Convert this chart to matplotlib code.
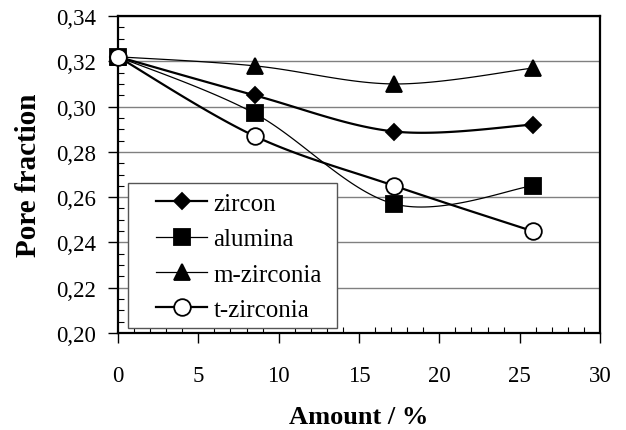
import numpy as np
import matplotlib
matplotlib.use("Agg")
import matplotlib.pyplot as plt
from matplotlib.ticker import MultipleLocator, FuncFormatter
from matplotlib.patches import Rectangle

amount = [0, 8.5, 17.2, 25.8]
zircon = [0.322, 0.305, 0.289, 0.292]
alumina = [0.322, 0.297, 0.257, 0.265]
m_zirconia = [0.322, 0.318, 0.310, 0.317]
t_zirconia = [0.322, 0.287, 0.265, 0.245]

series = [
    ("zircon", zircon, "D", 8.6, 1.6),
    ("alumina", alumina, "s", 11.5, 0.9),
    ("m-zirconia", m_zirconia, "^", 12, 0.9),
    ("t-zirconia", t_zirconia, "o", 12, 1.6),
]


def smooth(xs, ys, n=40):
    # Excel-style smoothed line (Catmull-Rom Bezier, 1/6 tension)
    P = np.column_stack([xs, ys]).astype(float)
    out = []
    for i in range(len(P) - 1):
        p0 = P[i - 1] if i > 0 else P[i]
        p1 = P[i]
        p2 = P[i + 1]
        p3 = P[i + 2] if i + 2 < len(P) else P[i + 1]
        c1 = p1 + (p2 - p0) / 6.0
        c2 = p2 - (p3 - p1) / 6.0
        t = np.linspace(0, 1, n)[:, None]
        seg = ((1 - t) ** 3) * p1 + 3 * ((1 - t) ** 2) * t * c1 + 3 * (1 - t) * t ** 2 * c2 + t ** 3 * p2
        out.append(seg if i == 0 else seg[1:])
    seg = np.vstack(out)
    return seg[:, 0], seg[:, 1]


plt.rcParams['font.family'] = ['Liberation Serif', 'DejaVu Serif']

fig = plt.figure(figsize=(6.26, 4.31), dpi=100)
ax = fig.add_axes([0.1885, 0.225, 0.77, 0.7355])

handles = []
for name, ys, mk, ms, lw in series:
    sx, sy = smooth(amount, ys)
    ax.plot(sx, sy, color="black", lw=lw, zorder=3)
    ax.plot(amount, ys, linestyle="none", marker=mk, ms=ms,
            mfc="white" if mk == "o" else "black", mec="black", mew=1.3, zorder=4, clip_on=False)
    h, = ax.plot([], [], color="black", lw=lw, marker=mk, ms=ms,
                 mfc="white" if mk == "o" else "black", mec="black", mew=1.3)
    h.set_label(name)
    handles.append(h)

ax.set_xlim(0, 30)
ax.set_ylim(0.20, 0.34)
ax.xaxis.set_major_locator(MultipleLocator(5))
ax.xaxis.set_minor_locator(MultipleLocator(1))
ax.yaxis.set_major_locator(MultipleLocator(0.02))
ax.yaxis.set_minor_locator(MultipleLocator(0.005))
ax.yaxis.set_major_formatter(FuncFormatter(lambda v, p: f"{v:.2f}".replace(".", ",")))
ax.tick_params(axis="both", which="major", direction="out", length=7, width=1, labelsize=16.5)
ax.tick_params(axis="x", which="major", pad=16)
ax.tick_params(axis="y", which="major", pad=9)
ax.tick_params(axis="both", which="minor", direction="in", length=4, width=0.8)
ax.grid(axis="y", which="major", color="#808080", lw=1)
ax.set_axisbelow(True)
for s in ax.spines.values():
    s.set_linewidth(1.6)

ax.set_xlabel("Amount / %", fontsize=19, fontweight="bold", labelpad=14)
ax.set_ylabel("Pore fraction", fontsize=21, fontweight="bold", labelpad=10)

# legend frame
ax.add_patch(Rectangle((0.0207, 0.0158), 0.4336, 0.457, transform=ax.transAxes,
                       facecolor="white", edgecolor="#555555", lw=1.0, zorder=5))
leg = ax.legend(handles=handles, loc="center left", bbox_to_anchor=(0.079, 0.241),
                fontsize=18, frameon=False, handlelength=2.05, borderaxespad=0,
                borderpad=0, labelspacing=0.51, handletextpad=0.25)
leg.set_zorder(6)

fig.savefig("out.png", dpi=100)
